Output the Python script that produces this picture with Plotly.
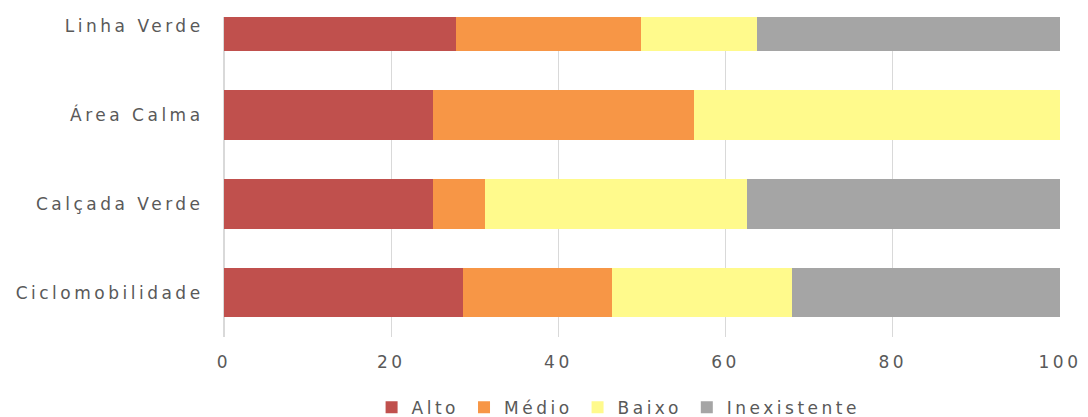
import plotly.graph_objects as go

categories = ["Ciclomobilidade", "Calçada Verde", "Área Calma", "Linha Verde"]
series_names = ["Alto", "Médio", "Baixo", "Inexistente"]
alto = [28.6, 25.0, 25.0, 27.7]
medio = [17.8, 6.25, 31.25, 22.2]
baixo = [21.5, 31.25, 43.75, 13.9]
inexistente = [32.1, 37.5, 0.0, 36.2]
x_ticks = [0, 20, 40, 60, 80, 100]

colors = ["#C0504D", "#F79646", "#FFFA8C", "#A5A5A5"]
values = [alto, medio, baixo, inexistente]


def wide(s, ls=3.5):
    return '<span style="letter-spacing:%.1fpx">%s</span>' % (ls, s)


fig = go.Figure()
for name, vals, col in zip(series_names, values, colors):
    fig.add_trace(go.Bar(
        y=categories, x=vals, name=wide(name), orientation="h",
        marker=dict(color=col, line=dict(width=0)),
    ))

font = dict(family="DejaVu Sans, Liberation Sans, sans-serif", size=17, color="#595959")
fig.update_layout(
    barmode="stack",
    bargap=0.44,
    width=1088, height=440,
    margin=dict(l=213, r=36, t=8, b=111),
    paper_bgcolor="white", plot_bgcolor="white",
    font=font,
    showlegend=True,
    legend=dict(orientation="h", x=0.472, xanchor="center", y=-0.221, yanchor="middle",
                font=font, traceorder="normal", itemwidth=30),
    xaxis=dict(range=[0, 100], tickvals=x_ticks, ticktext=[wide(str(v)) for v in x_ticks],
               showgrid=True, gridcolor="#D9D9D9",
               gridwidth=1, zeroline=True, zerolinecolor="#D9D9D9", showline=False,
               ticks="outside", ticklen=10, tickcolor="rgba(0,0,0,0)", tickfont=font),
    yaxis=dict(categoryorder="array", categoryarray=categories, range=[-0.5, 3.1],
               tickvals=categories, ticktext=[wide(c) for c in categories],
               showgrid=False, zeroline=False, showline=False,
               ticks="outside", ticklen=16, tickcolor="rgba(0,0,0,0)", tickfont=font),
)

fig.write_html("out.html")
